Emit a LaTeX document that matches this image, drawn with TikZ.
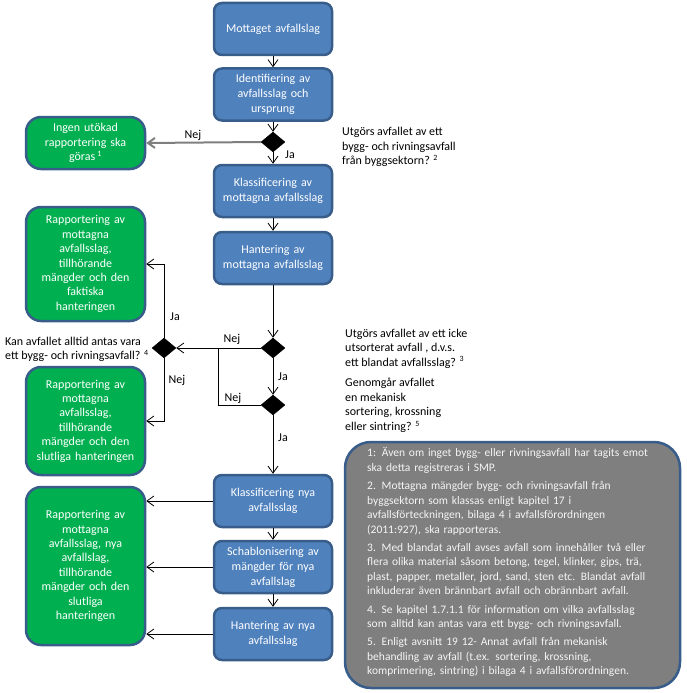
\documentclass[tikz,border=0pt]{standalone}
\usepackage{fontspec}
\setmainfont{Carlito}
\usetikzlibrary{shapes.geometric,arrows.meta}
\definecolor{boxblue}{HTML}{4F81BD}
\definecolor{boxedge}{HTML}{385D8A}
\definecolor{boxgreen}{HTML}{00B050}
\definecolor{notegray}{HTML}{7F7F7F}
\definecolor{linegray}{HTML}{7F7F7F}
\begin{document}
\begin{tikzpicture}[x=1pt,y=-1pt,
  bluebox/.style={draw=boxedge,line width=2.5pt,fill=boxblue,rounded corners=8pt,
    minimum width=118pt,minimum height=52pt,text width=110pt,align=center,
    inner sep=0pt,text=white,font=\fontsize{12}{15}\selectfont},
  greenbox/.style={draw=boxedge,line width=2.5pt,fill=boxgreen,rounded corners=15pt,
    minimum width=119pt,text width=112pt,align=center,
    inner sep=0pt,text=white,font=\fontsize{12}{14.4}\selectfont},
  decision/.style={diamond,fill=black,draw=black,minimum width=24pt,minimum height=20pt,inner sep=0pt},
  flow/.style={draw=black,line width=0.8pt,-{Straight Barb[length=7pt,width=10pt]}},
  plain/.style={draw=black,line width=0.8pt},
  lbl/.style={font=\fontsize{12}{14.5}\selectfont,inner sep=0pt},
  question/.style={font=\fontsize{12}{14.5}\selectfont,inner sep=0pt,align=left,anchor=west}
]
\useasboundingbox (0,0) rectangle (686,693);

% blue process boxes
\node[bluebox] (b1) at (273,29) {Mottaget avfallslag};
\node[bluebox] (b2) at (273,94.5) {Identifiering av\\avfallsslag och\\ursprung};
\node[bluebox] (b3) at (273,191) {Klassificering av\\mottagna avfallsslag};
\node[bluebox] (b4) at (273,258) {Hantering av\\mottagna avfallsslag};
\node[bluebox] (b5) at (273,501) {Klassificering nya\\avfallsslag};
\node[bluebox] (b6) at (273,567) {Schablonisering av\\mängder för nya\\avfallslag};
\node[bluebox] (b7) at (273,634) {Hantering av nya\\avfallsslag};

% decisions
\node[decision] (d1) at (273,142) {};
\node[decision] (d2) at (273,348) {};
\node[decision] (dl) at (164,348) {};
\node[decision] (d3) at (273,405) {};

% green result boxes
\node[greenbox,minimum height=52pt] (g1) at (85.5,143) {Ingen utökad\\rapportering ska\\göras\,\textsuperscript{1}};
\node[greenbox,minimum height=114pt] (g2) at (85.5,264) {Rapportering av\\mottagna\\avfallsslag,\\tillhörande\\mängder och den\\faktiska\\hanteringen};
\node[greenbox,minimum height=108pt] (g3) at (85.5,421) {Rapportering av\\mottagna\\avfallsslag,\\tillhörande\\mängder och den\\slutliga hanteringen};
\node[greenbox,minimum height=158pt] (g4) at (85.5,566) {Rapportering av\\mottagna\\avfallsslag, nya\\avfallslag,\\tillhörande\\mängder och den\\slutliga\\hanteringen};

% notes box
\node[draw=boxedge,line width=2.5pt,fill=notegray,rounded corners=26pt,
  minimum width=335pt,minimum height=246pt] (notes) at (512.5,565) {};
\node[anchor=north west,inner sep=0pt,text width=305pt,align=left,text=white!92!gray,
  font=\fontsize{11.5}{14.5}\selectfont] (notetext) at (367,447.5)
{1: Även om inget bygg- eller rivningsavfall har tagits emot\\
ska detta registreras i SMP.\\[3.75pt]
2. Mottagna mängder bygg- och rivningsavfall från\\
byggsektorn som klassas enligt kapitel 17 i\\
avfallsförteckningen, bilaga 4 i avfallsförordningen\\
(2011:927), ska rapporteras.\\[3.75pt]
3. Med blandat avfall avses  avfall som innehåller två eller\\
flera olika material såsom betong, tegel, klinker, gips, trä,\\
plast, papper, metaller, jord, sand, sten etc. Blandat avfall\\
inkluderar  även brännbart avfall och obrännbart avfall.\\[3.75pt]
4. Se kapitel  1.7.1.1  för information om vilka avfallsslag\\
som alltid kan antas vara ett bygg- och rivningsavfall.\\[3.75pt]
5. Enligt avsnitt 19 12- Annat avfall från mekanisk\\
behandling av avfall (t.ex. sortering, krossning,\\
komprimering, sintring) i bilaga 4 i avfallsförordningen.};

% question texts
\node[question] (q1) at (342,147) {Utgörs avfallet av ett\\bygg- och rivningsavfall\\från byggsektorn? \textsuperscript{2}};
\node[question] (q2) at (345,348.5) {Utgörs avfallet av ett icke\\utsorterat  avfall , d.v.s.\\ett blandat avfallsslag? \textsuperscript{3}};
\node[question] (q3) at (345,405.5) {Genomgår avfallet\\en mekanisk\\sortering, krossning\\eller sintring? \textsuperscript{5}};
\node[question] (q4) at (5,349.5) {Kan avfallet alltid antas vara\\ett bygg- och rivningsavfall? \textsuperscript{4}};

% connectors
\draw[flow] (b1) -- (b2);
\draw[flow] (b2) -- (d1.north);
\draw[flow,draw=linegray,line width=2pt] (d1.west) -- (g1.east);
\draw[flow] (d1.south) -- (b3.north);
\draw[flow] (b3) -- (b4);
\draw[flow] (b4.south) -- (d2.north);
\draw[flow] (d2.west) -- (dl.east);
\draw[flow] (dl.north) |- (g2.east);
\draw[flow] (dl.south) |- (g3.east);
\draw[flow] (d2.south) -- (d3.north);
\coordinate (j) at (218,348);
\draw[plain] (d3.west) -| (j);
\draw[flow] (d3.south) -- (b5.north);
\draw[flow] (b5) -- (b6);
\draw[flow] (b6) -- (b7);
\draw[flow] (b5.west) -- (b5.west -| g4.east);
\draw[flow] (b6.west) -- (b6.west -| g4.east);
\draw[flow] (b7.west) -- (b7.west -| g4.east);

% edge labels
\node[lbl] (l1) at (193,135) {Nej};
\node[lbl] (l2) at (290,155) {Ja};
\node[lbl] (l3) at (175,317) {Ja};
\node[lbl] (l4) at (177,380) {Nej};
\node[lbl] (l5) at (232,339) {Nej};
\node[lbl] (l6) at (283,377) {Ja};
\node[lbl] (l7) at (233,398) {Nej};
\node[lbl] (l8) at (283,438) {Ja};
\end{tikzpicture}
\end{document}
